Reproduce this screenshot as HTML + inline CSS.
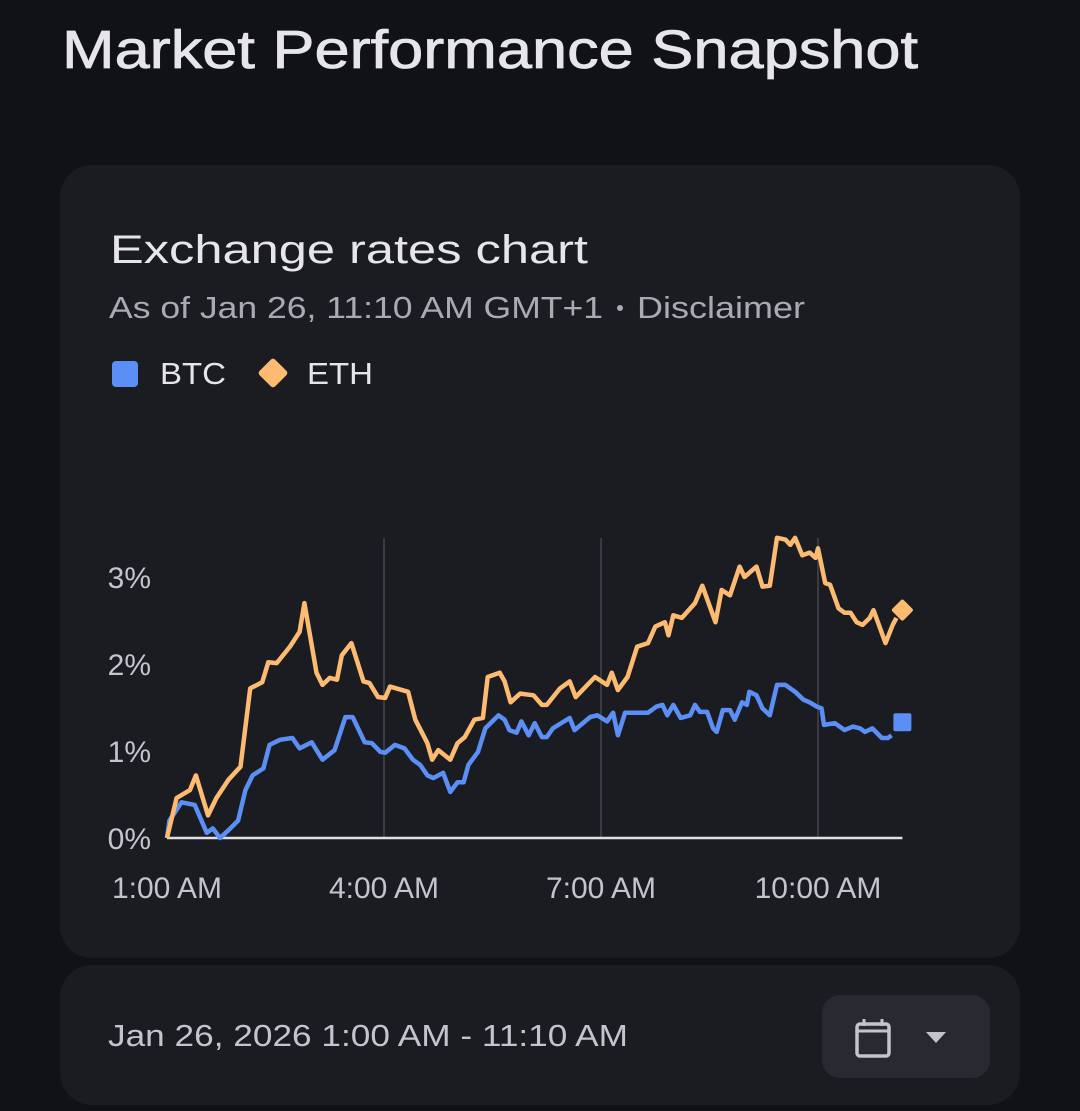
<!DOCTYPE html>
<html><head><meta charset="utf-8"><style>
html,body{margin:0;padding:0;background:#111216;}
svg{display:block;font-family:"Liberation Sans",sans-serif;}
</style></head><body>
<svg width="1080" height="1111" viewBox="0 0 1080 1111">
<rect x="0" y="0" width="1080" height="1111" fill="#111216"/>
<text x="62" y="68" font-size="54" fill="#e6e6ea" stroke="#e6e6ea" stroke-width="0.8" textLength="856" lengthAdjust="spacingAndGlyphs">Market Performance Snapshot</text>
<rect x="60" y="165" width="960" height="793" rx="32" fill="#1b1c22"/>
<rect x="60" y="965" width="960" height="140" rx="32" fill="#1b1c22"/>
<text x="110" y="263" font-size="40" fill="#e6e6ea" textLength="478" lengthAdjust="spacingAndGlyphs">Exchange rates chart</text>
<text x="109" y="318" font-size="31" fill="#a9aab2" textLength="494" lengthAdjust="spacingAndGlyphs">As of Jan 26, 11:10 AM GMT+1</text>
<circle cx="620" cy="308" r="3" fill="#a9aab2"/>
<text x="637" y="318" font-size="31" fill="#a9aab2" textLength="168" lengthAdjust="spacingAndGlyphs">Disclaimer</text>
<g>
<rect x="112" y="361" width="26" height="26" rx="4" fill="#5b8ff5"/>
<text x="160" y="384" font-size="31" fill="#e6e6ea" textLength="66" lengthAdjust="spacingAndGlyphs">BTC</text>
</g>
<g>
<rect x="262" y="362" width="22" height="22" rx="3" fill="#fdbb72" transform="rotate(45 273 373)"/>
<text x="307" y="384" font-size="31" fill="#e6e6ea" textLength="66" lengthAdjust="spacingAndGlyphs">ETH</text>
</g>
<g id="chart"></g>
<text x="108" y="1046" font-size="31" fill="#c4c5cc" textLength="520" lengthAdjust="spacingAndGlyphs">Jan 26, 2026 1:00 AM - 11:10 AM</text>
<g>
<rect x="822" y="995" width="168" height="83" rx="18" fill="#292a31"/>
<rect x="857" y="1024" width="32" height="32" rx="3" fill="none" stroke="#c4c5cc" stroke-width="3.5"/>
<line x1="857" y1="1031" x2="889" y2="1031" stroke="#c4c5cc" stroke-width="3"/>
<line x1="864" y1="1019" x2="864" y2="1026" stroke="#c4c5cc" stroke-width="3"/>
<line x1="882" y1="1019" x2="882" y2="1026" stroke="#c4c5cc" stroke-width="3"/>
<path d="M926 1032 L946 1032 L936 1043 Z" fill="#c4c5cc"/>
</g>
</svg>
<script>
const ethTimes=[0,8,19,24,34,41,51,61,69,79,84,91,102,110,114,124,129,135,141,145,153,163,168,175,181,185,200,206,216,220,225,235,241,247,255,262,266,276,280,285,293,304,311,315,326,334,339,355,365,369,374,382,390,399,405,413,416,420,427,438,444,455,460,467,475,479,489,494,500,506,513,517,521,527,533,538,540,546,550,557,562,567,572,577,583,586,596,602,605];
const ethValues=[0,0.46,0.55,0.72,0.26,0.46,0.67,0.82,1.72,1.79,2.02,2.01,2.2,2.37,2.7,1.9,1.76,1.84,1.82,2.1,2.24,1.8,1.78,1.62,1.61,1.74,1.68,1.36,1.09,0.9,1.01,0.9,1.09,1.16,1.36,1.38,1.85,1.9,1.8,1.56,1.66,1.64,1.53,1.53,1.72,1.8,1.62,1.85,1.76,1.9,1.7,1.85,2.2,2.24,2.43,2.48,2.33,2.56,2.53,2.7,2.9,2.48,2.85,2.79,3.12,3.0,3.12,2.89,2.9,3.45,3.43,3.37,3.45,3.25,3.28,3.22,3.33,2.93,2.91,2.64,2.59,2.59,2.48,2.45,2.53,2.62,2.24,2.45,2.53];
const btcTimes=[0,2,12,23,33,38,44,51,59,65,71,80,85,94,104,110,120,129,139,148,154,164,170,177,181,189,197,204,210,216,221,229,235,241,246,250,258,264,275,280,284,290,294,300,305,311,315,320,334,338,351,357,365,370,374,380,399,406,411,415,420,426,434,438,442,448,453,456,461,467,471,477,481,483,489,494,500,506,513,521,528,533,539,543,545,554,562,569,575,579,585,593,598,601];
const btcValues=[0,0.2,0.41,0.38,0.06,0.11,0,0.09,0.2,0.55,0.72,0.8,1.07,1.13,1.15,1.03,1.1,0.9,1.01,1.39,1.39,1.1,1.09,0.99,0.98,1.07,1.03,0.9,0.84,0.72,0.69,0.75,0.53,0.64,0.64,0.84,0.99,1.26,1.41,1.36,1.24,1.21,1.34,1.18,1.32,1.16,1.16,1.26,1.38,1.24,1.39,1.41,1.34,1.44,1.18,1.44,1.44,1.51,1.53,1.41,1.53,1.38,1.41,1.53,1.45,1.45,1.26,1.22,1.47,1.47,1.36,1.56,1.53,1.68,1.64,1.49,1.41,1.76,1.76,1.68,1.59,1.56,1.51,1.49,1.30,1.32,1.24,1.28,1.26,1.22,1.26,1.15,1.15,1.18];
const lastTime=610;
const ethLast=2.62;
const btcLast=1.33;
const yTicks=[0,1,2,3];
const yTickLabels=["0%","1%","2%","3%"];
const xTicks=[0,180,360,540];
const xTickLabels=["1:00 AM","4:00 AM","7:00 AM","10:00 AM"];

const NS="http://www.w3.org/2000/svg";
const g=document.getElementById('chart');
const x=m=>167+m*(217/180);
const y=v=>838-v*87;
function mk(tag,attrs){const e=document.createElementNS(NS,tag);for(const k in attrs)e.setAttribute(k,attrs[k]);g.appendChild(e);return e;}
xTicks.forEach((t,i)=>{
  if(i>0){const l=mk('line',{x1:x(t),x2:x(t),y1:538,y2:838,stroke:'#3a3b42','stroke-width':2});
  
  }
  const tx=mk('text',{x:x(t),y:898,'font-size':30,fill:'#c4c5cc','text-anchor':'middle'});
  tx.textContent=xTickLabels[i];
  
  
});
yTicks.forEach((t,i)=>{
  const tx=mk('text',{x:151,y:y(t)+11,'font-size':30,fill:'#c4c5cc','text-anchor':'end'});
  tx.textContent=yTickLabels[i];
  
  
});
const base=mk('line',{x1:x(0),x2:x(lastTime),y1:y(0),y2:y(0),stroke:'#e0e0e4','stroke-width':2.5});


function path(ts,vs){return ts.map((t,i)=>(i?'L':'M')+x(t).toFixed(1)+' '+y(vs[i]).toFixed(1)).join(' ');}
const btc=mk('path',{d:path(btcTimes,btcValues),fill:'none',stroke:'#5b8ff5','stroke-width':4.5,'stroke-linejoin':'round'});


const eth=mk('path',{d:path(ethTimes,ethValues),fill:'none',stroke:'#fdbb72','stroke-width':4.5,'stroke-linejoin':'round'});


const bm=mk('rect',{x:x(lastTime)-9,y:y(btcLast)-9,width:18,height:18,rx:2,fill:'#5b8ff5'});


const em=mk('rect',{x:x(lastTime)-8,y:y(ethLast)-8,width:16,height:16,rx:2,fill:'#fdbb72',transform:`rotate(45 ${x(lastTime)} ${y(ethLast)})`});


</script>
</body></html>
